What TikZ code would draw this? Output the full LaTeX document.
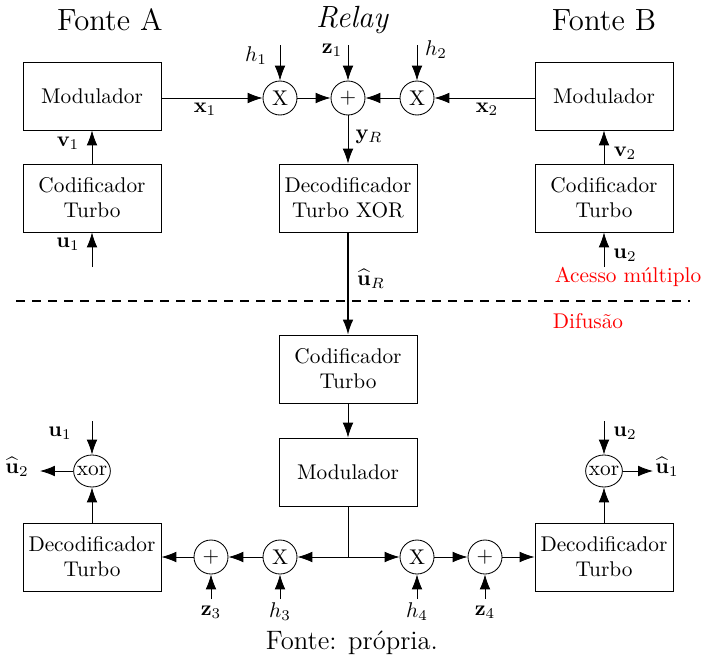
\documentclass[tikz,border=0pt]{standalone}
\usepackage{amsmath}
\usetikzlibrary{arrows.meta,shapes.geometric}
\begin{document}
\begin{tikzpicture}[x=0.4695pt,y=-0.4695pt,line width=0.4pt,
  blk/.style={draw, minimum width=138*0.4695pt, minimum height=68*0.4695pt, align=center, inner sep=0pt, font=\fontsize{10}{11.8}\selectfont},
  opc/.style={draw, circle, minimum size=34*0.4695pt, inner sep=0pt, font=\fontsize{10}{12}\selectfont},
  xorc/.style={draw, ellipse, inner xsep=-1pt, inner ysep=0pt, minimum height=32*0.4695pt, font=\fontsize{10}{12}\selectfont},
  arr/.style={-{Latex[length=7pt,width=5pt]}},
  lbl/.style={inner sep=0pt, font=\fontsize{10}{12}\selectfont},
  ttl/.style={inner sep=0pt, font=\fontsize{14.4}{17}\selectfont},
  redt/.style={inner sep=0pt, text=red, font=\fontsize{10}{12}\selectfont}
]
\useasboundingbox (0,0) rectangle (701,661);

% titles
\node[ttl] (tA) at (110,20) {Fonte A};
\node[ttl] (tR) at (352,20) {\itshape Relay};
\node[ttl] (tB) at (604,20) {Fonte B};

% top blocks
\node[blk] (modA) at (92,96) {Modulador};
\node[blk] (codA) at (92,198) {Codificador\\Turbo};
\node[blk] (modB) at (604,96) {Modulador};
\node[blk] (codB) at (604,198) {Codificador\\Turbo};
\node[blk] (decX) at (348,198) {Decodificador\\Turbo XOR};

\node[opc] (m1) at (280,98) {X};
\node[opc] (p1) at (348,98) {$+$};
\node[opc] (m2) at (417,98) {X};

\coordinate (h1s) at (280,45);
\coordinate (z1s) at (348,45);
\coordinate (h2s) at (417,45);
\coordinate (u1s) at (92,267);
\coordinate (u2s) at (604,267);

\draw[arr] (modA.east |- m1) -- (m1);
\draw[arr] (m1) -- (p1);
\draw[arr] (m2) -- (p1);
\draw[arr] (modB.west |- m2) -- (m2);
\draw[arr] (h1s) -- (m1);
\draw[arr] (z1s) -- (p1);
\draw[arr] (h2s) -- (m2);
\draw[arr] (codA) -- (modA);
\draw[arr] (codB) -- (modB);
\draw[arr] (u1s) -- (codA);
\draw[arr] (u2s) -- (codB);
\draw[arr] (p1) -- (decX);

\node[lbl] (lh1) at (256,56) {$h_1$};
\node[lbl] (lz1) at (332,50) {$\mathbf{z}_1$};
\node[lbl] (lh2) at (436,50) {$h_2$};
\node[lbl] (lx1) at (205,109) {$\mathbf{x}_1$};
\node[lbl] (lx2) at (487,109) {$\mathbf{x}_2$};
\node[lbl] (lv1) at (68,143) {$\mathbf{v}_1$};
\node[lbl] (lu1) at (68,244) {$\mathbf{u}_1$};
\node[lbl] (lv2) at (625,153) {$\mathbf{v}_2$};
\node[lbl] (lu2) at (625,255) {$\mathbf{u}_2$};
\node[lbl] (lyR) at (369,137) {$\mathbf{y}_R$};

% separator
\draw[line width=0.65pt, dash pattern=on 9*0.4695pt off 7*0.4695pt] (16,301) -- (690,301);
\node[redt] (acc) at (628,277) {Acesso múltiplo};
\node[redt] (dif) at (588,321) {Difusão};

% relay broadcast
\node[blk] (codM) at (348,369) {Codificador\\Turbo};
\node[blk] (modM) at (348,472) {Modulador};
\draw[arr, line width=0.65pt] (decX) -- (codM);
\node[lbl] (luR) at (371,279) {$\widehat{\mathbf{u}}_R$};
\draw[arr] (codM) -- (modM);

\coordinate (j) at (348,557);
\node[opc] (m3) at (280,557) {X};
\node[opc] (p3) at (211,557) {$+$};
\node[opc] (m4) at (417,557) {X};
\node[opc] (p4) at (485,557) {$+$};
\node[blk] (decL) at (92,557) {Decodificador\\Turbo};
\node[blk] (decR) at (604,557) {Decodificador\\Turbo};

\draw (modM) -- (j);
\draw[arr] (j) -- (m3);
\draw[arr] (j) -- (m4);
\draw[arr] (m3) -- (p3);
\draw[arr] (p3) -- (decL);
\draw[arr] (m4) -- (p4);
\draw[arr] (p4) -- (decR);

\coordinate (h3s) at (280,599);
\coordinate (z3s) at (211,599);
\coordinate (h4s) at (417,599);
\coordinate (z4s) at (485,599);
\draw[arr] (h3s) -- (m3);
\draw[arr] (z3s) -- (p3);
\draw[arr] (h4s) -- (m4);
\draw[arr] (z4s) -- (p4);
\node[lbl] (lh3) at (280,612) {$h_3$};
\node[lbl] (lz3) at (211,612) {$\mathbf{z}_3$};
\node[lbl] (lh4) at (417,612) {$h_4$};
\node[lbl] (lz4) at (485,612) {$\mathbf{z}_4$};

\node[xorc] (xL) at (92,471) {xor};
\node[xorc] (xR) at (604,471) {xor};
\coordinate (u1b) at (92,421);
\coordinate (u2b) at (604,421);
\coordinate (oL) at (40,471);
\coordinate (oR) at (653,471);
\draw[arr] (decL) -- (xL);
\draw[arr] (decR) -- (xR);
\draw[arr] (u1b) -- (xL);
\draw[arr] (u2b) -- (xR);
\draw[arr] (xL) -- (oL);
\draw[arr] (xR) -- (oR);
\node[lbl] (lu1b) at (60,433) {$\mathbf{u}_1$};
\node[lbl] (lu2b) at (625,433) {$\mathbf{u}_2$};
\node[lbl] (lo2) at (17,467) {$\widehat{\mathbf{u}}_2$};
\node[lbl, anchor=west] (lo1) at (655,467) {$\widehat{\mathbf{u}}_1$};

\node[inner sep=0pt, font=\fontsize{12.5}{15}\selectfont] (cap) at (352,643) {Fonte: própria.};
\end{tikzpicture}
\end{document}
